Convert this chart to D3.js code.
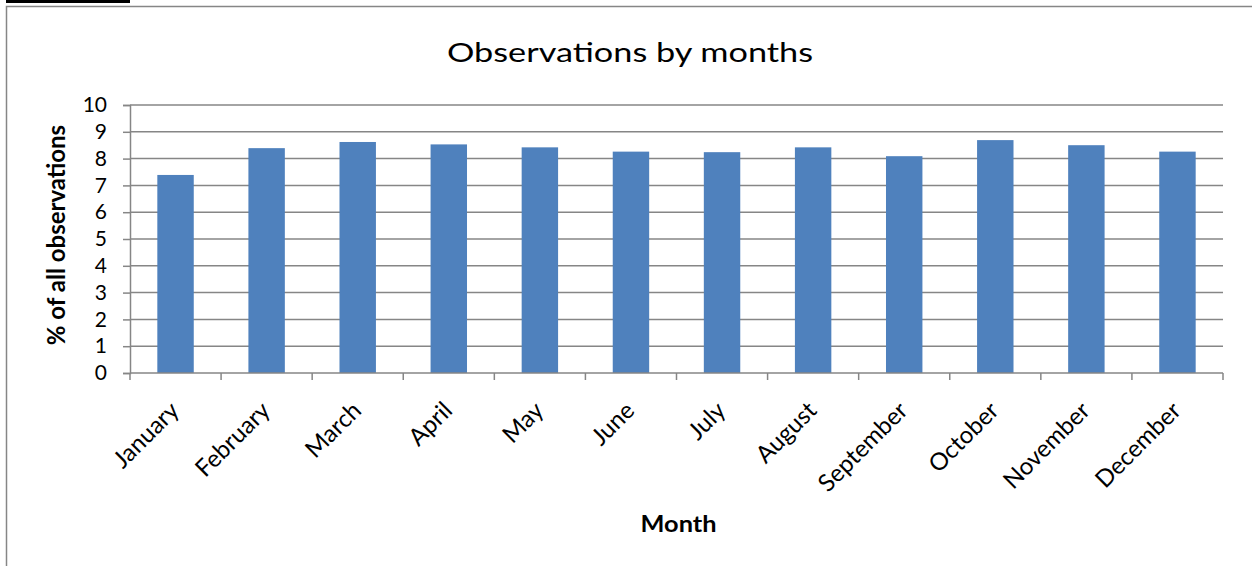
<!DOCTYPE html>
<html>
<head>
<meta charset="utf-8">
<script src="https://cdn.jsdelivr.net/npm/d3@7"></script>
<style>
  body { margin: 0; background: #fff; }
  svg { display: block; font-family: Lato, "Open Sans", sans-serif; }
</style>
</head>
<body>
<svg id="chart" width="1252" height="566"></svg>
<script>
// chart values
const months = ["January", "February", "March", "April", "May", "June",
                "July", "August", "September", "October", "November", "December"];
const shares = [7.39, 8.39, 8.62, 8.53, 8.42, 8.26, 8.24, 8.42, 8.09, 8.69, 8.50, 8.26];
const yTicks = [0, 1, 2, 3, 4, 5, 6, 7, 8, 9, 10];

const svg = d3.select("#chart");
const margin = {left: 130, right: 1223, top: 105, bottom: 373};
const grey = "#868686";

// outer chart frame (cut by the page edge on the right and bottom)
svg.append("rect")
  .attr("x", 6.5).attr("y", 6.5)
  .attr("width", 1260).attr("height", 580)
  .attr("fill", "none").attr("stroke", grey).attr("stroke-width", 1.5);

// the underline of the caption above, mostly cropped away
svg.append("line")
  .attr("x1", 6).attr("x2", 130).attr("y1", 1.5).attr("y2", 1.5)
  .attr("stroke", "#000").attr("stroke-width", 3);

let x = d3.scaleBand().domain(months).range([margin.left, margin.right]).paddingInner(0.6).paddingOuter(0.3);
let xTickScale = d3.scaleLinear().domain([0, months.length]).range([margin.left, margin.right]);
let y = d3.scaleLinear().domain([0, 10]).range([margin.bottom, margin.top]);

// gridlines
svg.append("g")
  .selectAll("line")
  .data(yTicks.filter(d => d > 0))
  .join("line")
  .attr("x1", margin.left).attr("x2", margin.right)
  .attr("y1", d => y(d)).attr("y2", d => y(d))
  .attr("stroke", grey).attr("stroke-width", 1.5);

// bars
svg.append("g")
  .selectAll("rect")
  .data(shares)
  .join("rect")
  .attr("x", (d, i) => x(months[i]))
  .attr("width", x.bandwidth())
  .attr("y", d => y(d))
  .attr("height", d => y(0) - y(d))
  .attr("fill", "#4F81BD");

// y axis
let yAxis = d3.axisLeft(y).tickValues(yTicks).tickSize(7).tickPadding(16);
let yG = svg.append("g").attr("transform", `translate(${margin.left},0)`).call(yAxis);
yG.select(".domain").attr("stroke", grey).attr("stroke-width", 1.5);
yG.selectAll(".tick line").attr("stroke", grey).attr("stroke-width", 1.5);
yG.selectAll(".tick text")
  .attr("font-size", 21).attr("fill", "#000")
  .attr("font-family", "Lato, sans-serif");

// x axis: baseline and ticks at band borders
let xG = svg.append("g").attr("transform", `translate(0,${margin.bottom})`);
xG.append("line")
  .attr("x1", margin.left).attr("x2", margin.right)
  .attr("stroke", grey).attr("stroke-width", 1.5);
xG.selectAll(".xt")
  .data(d3.range(months.length + 1))
  .join("line")
  .attr("class", "xt")
  .attr("x1", d => xTickScale(d)).attr("x2", d => xTickScale(d))
  .attr("y1", 0).attr("y2", 7)
  .attr("stroke", grey).attr("stroke-width", 1.5);

xG.selectAll(".xl")
  .data(months)
  .join("text")
  .attr("class", "xl")
  .attr("text-anchor", "end")
  .attr("transform", d => `translate(${x(d) + x.bandwidth() / 2 + 5},${39}) rotate(-45)`)
  .attr("font-size", 24)
  .attr("fill", "#000")
  .text(d => d);

// title and axis titles
svg.append("text")
  .attr("x", 630).attr("y", 62)
  .attr("text-anchor", "middle")
  .attr("font-size", 26.5)
  .attr("textLength", 366).attr("lengthAdjust", "spacingAndGlyphs")
  .text("Observations by months");

svg.append("text")
  .attr("transform", "translate(65,235) rotate(-90)")
  .attr("text-anchor", "middle")
  .attr("font-size", 24).attr("font-weight", "bold")
  .text("% of all observations");

svg.append("text")
  .attr("x", 678.5).attr("y", 532)
  .attr("text-anchor", "middle")
  .attr("font-size", 23).attr("font-weight", "bold")
  .attr("textLength", 76).attr("lengthAdjust", "spacingAndGlyphs")
  .text("Month");
</script>
</body>
</html>
